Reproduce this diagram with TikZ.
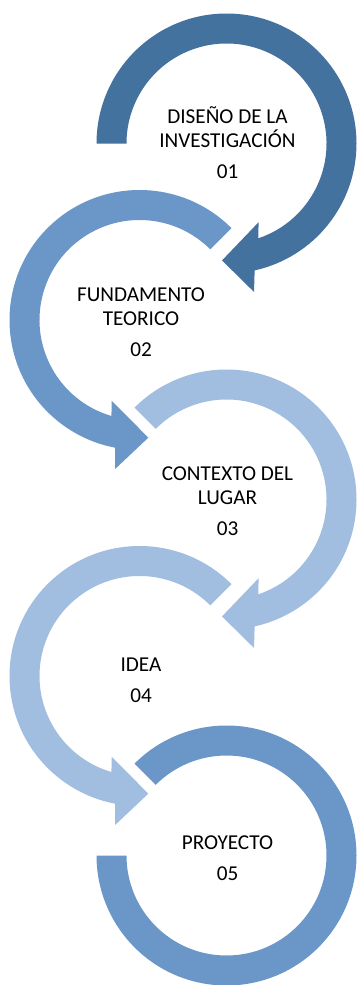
\documentclass[tikz,border=0pt]{standalone}
\usepackage{fontspec}
\setmainfont{Carlito}

\definecolor{stepdark}{HTML}{44729F}
\definecolor{stepmid}{HTML}{6A96C8}
\definecolor{steplight}{HTML}{A1BDE0}

\begin{document}
\begin{tikzpicture}[x=1pt, y=1pt,
    steptext/.style={font=\fontsize{21.2}{23.5}\selectfont, align=center,
        anchor=base, inner sep=0pt, text=black}]
    \useasboundingbox (0,0) rectangle (356,-985);

    \coordinate (c1) at (226.5,-143.5);
    \coordinate (c2) at (139.5,-320);
    \coordinate (c3) at (226.5,-499.5);
    \coordinate (c4) at (139.5,-676);
    \coordinate (c5) at (226.5,-855.5);

    % clockwise arrows
    \fill[stepdark] ([shift={(180:130)}]c1) arc[start angle=180, end angle=-77.5, radius=130]
        -- ([shift={(-79.5:151)}]c1) -- ([shift={(-92.2:117)}]c1) -- ([shift={(-67.8:85)}]c1)
        -- ([shift={(-71.5:100)}]c1) arc[start angle=-71.5, end angle=180, radius=100] -- cycle;
    \fill[steplight] ([shift={(135:130)}]c3) arc[start angle=135, end angle=-77.5, radius=130]
        -- ([shift={(-79.5:151)}]c3) -- ([shift={(-92.2:117)}]c3) -- ([shift={(-67.8:85)}]c3)
        -- ([shift={(-71.5:100)}]c3) arc[start angle=-71.5, end angle=135, radius=100] -- cycle;

    % counter-clockwise arrows
    \fill[stepmid] ([shift={(45:130)}]c2) arc[start angle=45, end angle=259.2, radius=130]
        -- ([shift={(260.7:151)}]c2) -- ([shift={(274.3:118)}]c2) -- ([shift={(251:85.4)}]c2)
        -- ([shift={(253.7:100)}]c2) arc[start angle=253.7, end angle=45, radius=100] -- cycle;
    \fill[steplight] ([shift={(45:130)}]c4) arc[start angle=45, end angle=259.2, radius=130]
        -- ([shift={(260.7:151)}]c4) -- ([shift={(274.3:118)}]c4) -- ([shift={(251:85.4)}]c4)
        -- ([shift={(253.7:100)}]c4) arc[start angle=253.7, end angle=45, radius=100] -- cycle;

    % last ring, no head
    \fill[stepmid] ([shift={(135:130)}]c5) arc[start angle=135, end angle=-180, radius=130]
        -- ([shift={(180:100)}]c5) arc[start angle=-180, end angle=135, radius=100] -- cycle;

    % base = baseline of the number
    \node[steptext] (s1) at ([xshift=1, yshift=-34.8]c1) {DISEÑO DE LA\\INVESTIGACIÓN\\[7.5pt]01};
    \node[steptext] (s2) at ([xshift=1.5, yshift=-36]c2) {FUNDAMENTO\\TEORICO\\[7.5pt]02};
    \node[steptext] (s3) at ([xshift=1, yshift=-35.5]c3) {CONTEXTO DEL\\LUGAR\\[7.5pt]03};
    \node[steptext] (s4) at ([xshift=1.5, yshift=-26.7]c4) {IDEA\\[7.5pt]04};
    \node[steptext] (s5) at ([xshift=1, yshift=-24.5]c5) {PROYECTO\\[7.5pt]05};
\end{tikzpicture}
\end{document}
